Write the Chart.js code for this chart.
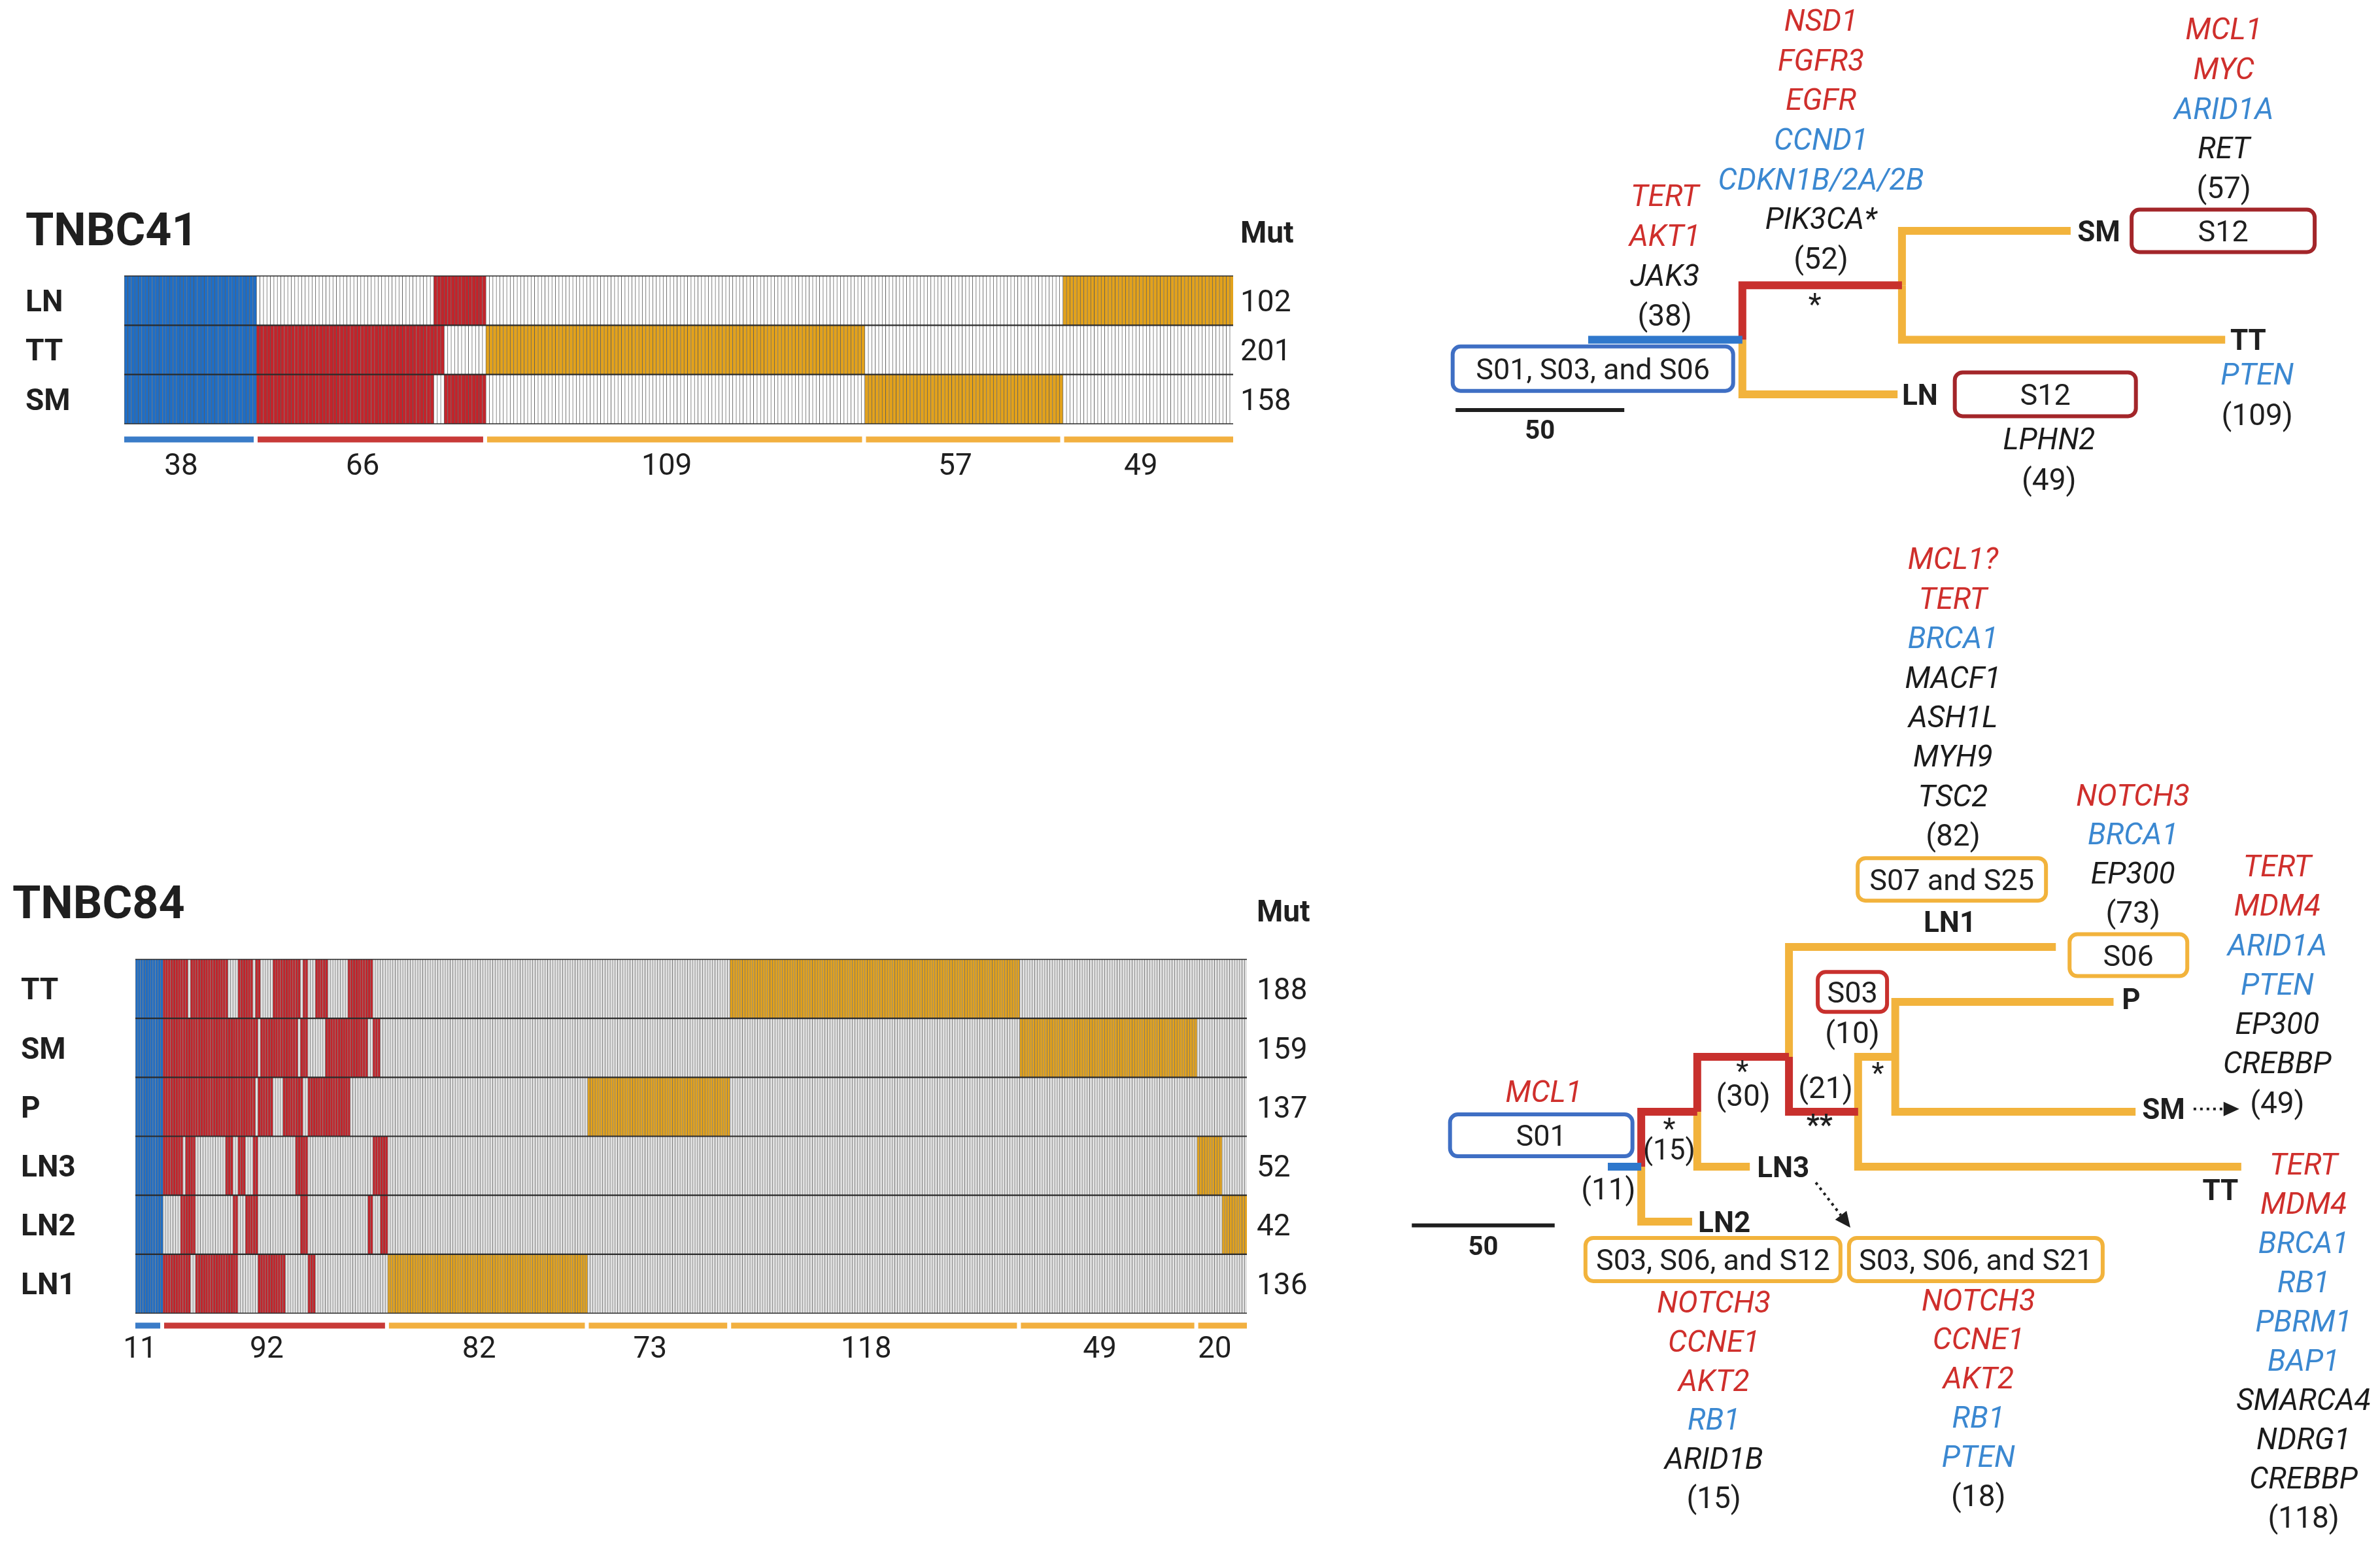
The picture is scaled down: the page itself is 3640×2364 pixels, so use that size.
<!DOCTYPE html>
<html>
<head>
<meta charset="utf-8">
<script src="https://cdn.jsdelivr.net/npm/chart.js@4.4.0/dist/chart.umd.min.js"></script>
<style>
html, body { margin: 0; padding: 0; background: #fff; }
#page { position: relative; width: 3640px; height: 2364px; overflow: hidden; background: #fff; }
canvas { position: absolute; }
</style>
</head>
<body>
<div id="page">
  <canvas id="hm41" width="2050" height="480" style="left:0;top:280px;width:2050px;height:480px"></canvas>
  <canvas id="hm84" width="2050" height="800" style="left:0;top:1320px;width:2050px;height:800px"></canvas>
  <canvas id="tree41" width="1490" height="780" style="left:2150px;top:0;width:1490px;height:780px"></canvas>
  <canvas id="tree84" width="1510" height="1564" style="left:2130px;top:800px;width:1510px;height:1564px"></canvas>
</div>
<script>
// TNBC41 heatmap: one column per mutation, runs of present columns per sample
const tnbc41Samples = ['LN', 'TT', 'SM'];
const tnbc41Mut = ['102', '201', '158'];
const tnbc41BlockEnds = [38, 104, 213, 270, 319];
const tnbc41BlockKind = ['trunk', 'shared', 'private', 'private', 'private'];
const tnbc41BlockLabels = ['38', '66', '109', '57', '49'];
const tnbc41LN = [[0, 38], [89, 104], [270, 319]];
const tnbc41TT = [[0, 38], [38, 92], [104, 213]];
const tnbc41SM = [[0, 38], [38, 89], [92, 104], [213, 270]];

// TNBC84 heatmap
const tnbc84Samples = ['TT', 'SM', 'P', 'LN3', 'LN2', 'LN1'];
const tnbc84Mut = ['188', '159', '137', '52', '42', '136'];
const tnbc84BlockEnds = [11, 101, 181, 238, 354, 425, 445];
const tnbc84BlockKind = ['trunk', 'shared', 'private', 'private', 'private', 'private', 'private'];
const tnbc84BlockLabels = ['11', '92', '82', '73', '118', '49', '20'];
const tnbc84TT = [[0, 11], [11, 21], [22, 37], [41, 47], [48, 50], [55, 66], [67, 69], [72, 77], [85, 95], [238, 354]];
const tnbc84SM = [[0, 11], [11, 49], [50, 65], [66, 69], [76, 93], [95, 98], [354, 425]];
const tnbc84P = [[0, 11], [11, 48], [49, 55], [59, 67], [69, 86], [181, 238]];
const tnbc84LN3 = [[0, 11], [11, 19], [20, 24], [36, 39], [41, 44], [47, 49], [64, 69], [95, 101], [425, 435]];
const tnbc84LN2 = [[0, 11], [18, 24], [39, 41], [44, 49], [66, 69], [93, 95], [98, 101], [435, 445]];
const tnbc84LN1 = [[0, 11], [11, 22], [24, 41], [49, 60], [69, 72], [101, 181]];

// Trees: branch lengths read against the "50" scale bar, level = row of the branch
const scaleBarLength = 50;
const tree41Parent = [-1, 0, 0, 1, 1];
const tree41Length = [45.7, 47.3, 46.0, 50.0, 95.8];
const tree41Level = [2, 1, 3, 0, 2];
const tree41Kind = ['trunk', 'shared', 'private', 'private', 'private'];

const tree84Parent = [-1, 0, 0, 1, 1, 3, 3, 6, 6, 7, 7];
const tree84Length = [11.7, 19.6, 17.8, 32.1, 18.4, 93.4, 24.2, 13.0, 134.1, 76.4, 84.1];
const tree84Level = [4, 3, 5, 2, 4, 0, 3, 2, 4, 1, 3];
const tree84Kind = ['trunk', 'shared', 'private', 'shared', 'private', 'private', 'shared', 'private', 'private', 'private', 'private'];

// gene lists (r = red, b = blue, k = black)
const t41TrunkGenes = [['TERT', 'r'], ['AKT1', 'r'], ['JAK3', 'k']];
const t41SharedGenes = [['NSD1', 'r'], ['FGFR3', 'r'], ['EGFR', 'r'], ['CCND1', 'b'], ['CDKN1B/2A/2B', 'b'], ['PIK3CA*', 'k']];
const t41SmGenes = [['MCL1', 'r'], ['MYC', 'r'], ['ARID1A', 'b'], ['RET', 'k']];
const t41TtGenes = [['PTEN', 'b']];
const t41LnGenes = [['LPHN2', 'k']];

const t84Ln1Genes = [['MCL1?', 'r'], ['TERT', 'r'], ['BRCA1', 'b'], ['MACF1', 'k'], ['ASH1L', 'k'], ['MYH9', 'k'], ['TSC2', 'k']];
const t84PGenes = [['NOTCH3', 'r'], ['BRCA1', 'b'], ['EP300', 'k']];
const t84SmGenes = [['TERT', 'r'], ['MDM4', 'r'], ['ARID1A', 'b'], ['PTEN', 'b'], ['EP300', 'k'], ['CREBBP', 'k']];
const t84TtGenes = [['TERT', 'r'], ['MDM4', 'r'], ['BRCA1', 'b'], ['RB1', 'b'], ['PBRM1', 'b'], ['BAP1', 'b'], ['SMARCA4', 'k'], ['NDRG1', 'k'], ['CREBBP', 'k']];
const t84Ln2Genes = [['NOTCH3', 'r'], ['CCNE1', 'r'], ['AKT2', 'r'], ['RB1', 'b'], ['ARID1B', 'k']];
const t84Ln3Genes = [['NOTCH3', 'r'], ['CCNE1', 'r'], ['AKT2', 'r'], ['RB1', 'b'], ['PTEN', 'b']];

// colours
const cellFill = { trunk: '#1f6ec6', shared: '#c3242b', private: '#e3a21b' };
const barFill = { trunk: '#3a7cc8', shared: '#c83a38', private: '#f2b040' };
const branchColor = { trunk: '#2f78cc', shared: '#c8302d', private: '#f2b33c' };
const boxColor = { blue: '#3f6fc4', darkred: '#a3262a', red: '#c8302d', yellow: '#f2b33c' };
const tone = { r: '#cf2f2c', b: '#3b88d1', k: '#1b1b1b' };
const ink = '#1f1f1f';

function put(ctx, s, x, y, weight, size, color, align) {
    ctx.font = `${weight} ${size}px Roboto`;
    ctx.fillStyle = color;
    ctx.textAlign = align || 'center';
    ctx.textBaseline = 'alphabetic';
    ctx.fillText(s, x, y + size * 0.355);
}

function expandRuns(runs, n) {
    const on = new Array(n).fill(false);
    runs.forEach(([a, b]) => { for (let c = a; c < b; c++) on[c] = true; });
    return on;
}

// Heatmap decorations: row lines, labels, block bars
function heatmapDecor(o) {
    return {
        id: 'heatmapDecor',
        afterDatasetsDraw(chart) {
            const { ctx, chartArea: a, scales: { x, y } } = chart;
            const colW = x.getPixelForValue(1) - x.getPixelForValue(0);
            const edge = c => x.getPixelForValue(c) - colW / 2;
            const rows = o.samples.length;
            ctx.save();
            ctx.strokeStyle = '#2a2a2a';
            for (let r = 0; r <= rows; r++) {
                const yy = y.getPixelForValue(r);
                ctx.lineWidth = (r === 0 || r === rows) ? 1.5 : 2.2;
                ctx.beginPath(); ctx.moveTo(a.left, yy); ctx.lineTo(a.right, yy); ctx.stroke();
            }
            put(ctx, o.title, o.titleX, o.titleY, 'bold', 70, ink, 'left');
            put(ctx, 'Mut', o.countX, o.mutY, 'bold', 46, ink, 'left');
            o.samples.forEach((s, r) => {
                const yc = y.getPixelForValue(r + 0.5);
                put(ctx, s, o.labelX, yc, 'bold', 46, ink, 'left');
                put(ctx, o.mut[r], o.countX, yc, 'normal', 46, ink, 'left');
            });
            let start = 0;
            o.ends.forEach((end, i) => {
                const last = i === o.ends.length - 1;
                const x0 = edge(start) + (i ? 2 : 0);
                const x1 = edge(end) - (last ? 0 : 4);
                ctx.fillStyle = barFill[o.kinds[i]];
                ctx.fillRect(x0, a.bottom + o.barGap - 4.5, x1 - x0, 9);
                put(ctx, o.blockLabels[i], (x0 + x1) / 2 - 12, a.bottom + o.numGap, 'normal', 46, ink, 'center');
                start = end;
            });
            ctx.restore();
        }
    };
}

function drawHeatmap(id, o) {
    const n = o.ends[o.ends.length - 1];
    const cols = Array.from({ length: n }, (_, i) => i);
    const kindOf = c => o.kinds[o.ends.findIndex(e => c < e)];
    new Chart(document.getElementById(id), {
        type: 'bar',
        data: {
            labels: cols.map(String),
            datasets: o.runs.map((runs, r) => {
                const on = expandRuns(runs, n);
                return {
                    data: cols.map(() => [r, r + 1]),
                    backgroundColor: cols.map(c => on[c] ? cellFill[kindOf(c)] : o.absent),
                    borderColor: o.line,
                    borderWidth: { left: 1, right: 0, top: 0, bottom: 0 },
                    borderSkipped: false,
                    grouped: false,
                    barPercentage: 1,
                    categoryPercentage: 1
                };
            })
        },
        options: {
            responsive: false,
            animation: false,
            events: [],
            layout: { padding: o.pad },
            plugins: { legend: { display: false }, tooltip: { enabled: false } },
            scales: {
                x: { display: false },
                y: { display: false, min: 0, max: o.samples.length, reverse: true }
            }
        },
        plugins: [heatmapDecor(o)]
    });
}

// Tree decorations: gene lists, boxes, labels, scale bar, arrows
function treeDecor(notes) {
    return {
        id: 'treeDecor',
        afterDatasetsDraw(chart) {
            const { ctx, scales: { x, y } } = chart;
            const px = v => x.getPixelForValue(v);
            const py = v => y.getPixelForValue(v);
            ctx.save();
            notes.forEach(n => {
                if (n.type === 'genes') {
                    const x0 = px(n.x), y0 = py(n.y);
                    n.genes.forEach(([g, t], i) => put(ctx, g, x0, y0 + i * n.step, 'italic', 46, tone[t], 'center'));
                    put(ctx, n.count, x0, y0 + n.genes.length * n.step, 'normal', 46, ink, 'center');
                } else if (n.type === 'box') {
                    const cx = px(n.x), cy = py(n.y);
                    ctx.beginPath();
                    ctx.roundRect(cx - n.w / 2, cy - n.h / 2, n.w, n.h, 12);
                    ctx.fillStyle = '#fff'; ctx.fill();
                    ctx.lineWidth = 6; ctx.strokeStyle = boxColor[n.color]; ctx.stroke();
                    put(ctx, n.text, cx, cy, 'normal', 45, ink, 'center');
                } else if (n.type === 'bold') {
                    put(ctx, n.text, px(n.x), py(n.y), 'bold', 44, ink, n.align || 'center');
                } else if (n.type === 'text') {
                    put(ctx, n.text, px(n.x), py(n.y), n.weight || 'normal', n.size || 46, n.color || ink, 'center');
                } else if (n.type === 'scale') {
                    ctx.strokeStyle = ink; ctx.lineWidth = 6;
                    ctx.beginPath(); ctx.moveTo(px(n.x), py(n.y)); ctx.lineTo(px(n.x + scaleBarLength), py(n.y)); ctx.stroke();
                    put(ctx, String(scaleBarLength), px(n.x + scaleBarLength / 2), py(n.ly), 'bold', 40, ink, 'center');
                } else if (n.type === 'arrow') {
                    const x0 = px(n.x0), y0 = py(n.y0), x1 = px(n.x1), y1 = py(n.y1);
                    const ang = Math.atan2(y1 - y0, x1 - x0), head = 24;
                    ctx.strokeStyle = ink; ctx.lineWidth = 4; ctx.setLineDash([4, 6]);
                    ctx.beginPath(); ctx.moveTo(x0, y0);
                    ctx.lineTo(x1 - head * Math.cos(ang), y1 - head * Math.sin(ang)); ctx.stroke();
                    ctx.setLineDash([]);
                    ctx.fillStyle = ink;
                    ctx.beginPath();
                    ctx.moveTo(x1, y1);
                    ctx.lineTo(x1 - head * Math.cos(ang) + 11 * Math.sin(ang), y1 - head * Math.sin(ang) - 11 * Math.cos(ang));
                    ctx.lineTo(x1 - head * Math.cos(ang) - 11 * Math.sin(ang), y1 - head * Math.sin(ang) + 11 * Math.cos(ang));
                    ctx.closePath(); ctx.fill();
                }
            });
            ctx.restore();
        }
    };
}

function drawTree(id, t) {
    // node x = parent end + branch length; each branch = elbow from parent row
    const endX = [];
    t.parent.forEach((p, i) => { endX[i] = (p < 0 ? 0 : endX[p]) + t.length[i]; });
    const datasets = t.parent.map((p, i) => {
        const startX = p < 0 ? 0 : endX[p];
        const pts = p < 0
            ? [{ x: 0, y: t.level[i] }, { x: endX[i], y: t.level[i] }]
            : [{ x: startX, y: t.level[p] }, { x: startX, y: t.level[i] }, { x: endX[i], y: t.level[i] }];
        return {
            data: pts,
            showLine: true,
            borderColor: branchColor[t.kind[i]],
            borderWidth: 12,
            borderCapStyle: 'butt',
            borderJoinStyle: 'miter',
            pointRadius: 0,
            tension: 0
        };
    });
    new Chart(document.getElementById(id), {
        type: 'scatter',
        data: { datasets },
        options: {
            responsive: false,
            animation: false,
            events: [],
            plugins: { legend: { display: false }, tooltip: { enabled: false } },
            scales: {
                x: { type: 'linear', display: false, min: t.xRange[0], max: t.xRange[1] },
                y: { type: 'linear', display: false, min: t.yRange[0], max: t.yRange[1], reverse: true }
            }
        },
        plugins: [treeDecor(t.notes)]
    });
}

function main() {
    drawHeatmap('hm41', {
        title: 'TNBC41', samples: tnbc41Samples, mut: tnbc41Mut,
        ends: tnbc41BlockEnds, kinds: tnbc41BlockKind, blockLabels: tnbc41BlockLabels,
        runs: [tnbc41LN, tnbc41TT, tnbc41SM],
        absent: '#ffffff', line: 'rgba(35,35,35,0.7)',
        pad: { left: 190, right: 164, top: 142, bottom: 112 },
        titleX: 39, titleY: 70, labelX: 39, countX: 1897, mutY: 75, barGap: 24, numGap: 62
    });
    drawHeatmap('hm84', {
        title: 'TNBC84', samples: tnbc84Samples, mut: tnbc84Mut,
        ends: tnbc84BlockEnds, kinds: tnbc84BlockKind, blockLabels: tnbc84BlockLabels,
        runs: [tnbc84TT, tnbc84SM, tnbc84P, tnbc84LN3, tnbc84LN2, tnbc84LN1],
        absent: '#e2e2e2', line: 'rgba(50,50,50,0.65)',
        pad: { left: 207, right: 143, top: 147, bottom: 112 },
        titleX: 19, titleY: 59, labelX: 32, countX: 1922, mutY: 73, barGap: 19, numGap: 52
    });

    drawTree('tree41', {
        parent: tree41Parent, length: tree41Length, level: tree41Level, kind: tree41Kind,
        xRange: [-54.07, 234.69], yRange: [-4.238, 5.126],
        notes: [
            { type: 'genes', x: 22.7, y: -0.65, genes: t41TrunkGenes, count: '(38)', step: 61 },
            { type: 'genes', x: 69.0, y: -3.87, genes: t41SharedGenes, count: '(52)', step: 60.7 },
            { type: 'text', x: 67.2, y: 1.34, text: '*' },
            { type: 'genes', x: 188.4, y: -3.71, genes: t41SmGenes, count: '(57)', step: 60.7 },
            { type: 'box', x: 188.2, y: 0, w: 280, h: 65, color: 'darkred', text: 'S12' },
            { type: 'bold', x: 145.0, y: 0, text: 'SM', align: 'left' },
            { type: 'bold', x: 190.3, y: 2, text: 'TT', align: 'left' },
            { type: 'genes', x: 198.3, y: 2.63, genes: t41TtGenes, count: '(109)', step: 62 },
            { type: 'bold', x: 93.0, y: 3, text: 'LN', align: 'left' },
            { type: 'box', x: 135.5, y: 3, w: 277, h: 67, color: 'darkred', text: 'S12' },
            { type: 'genes', x: 136.6, y: 3.81, genes: t41LnGenes, count: '(49)', step: 62 },
            { type: 'box', x: 1.4, y: 2.53, w: 429, h: 68, color: 'blue', text: 'S01, S03, and S06' },
            { type: 'scale', x: -39.3, y: 3.29, ly: 3.65 }
        ]
    });

    drawTree('tree84', {
        parent: tree84Parent, length: tree84Length, level: tree84Level, kind: tree84Kind,
        xRange: [-75.29, 270.25], yRange: [-7.714, 10.905],
        notes: [
            { type: 'box', x: -23.3, y: 3.43, w: 279, h: 64, color: 'blue', text: 'S01' },
            { type: 'text', x: -22.4, y: 2.63, text: 'MCL1', weight: 'italic', color: tone.r },
            { type: 'text', x: 0.2, y: 4.40, text: '(11)' },
            { type: 'text', x: 21.5, y: 3.30, text: '*', size: 44 },
            { type: 'text', x: 21.5, y: 3.68, text: '(15)', size: 44 },
            { type: 'text', x: 47.1, y: 2.26, text: '*', size: 44 },
            { type: 'text', x: 47.4, y: 2.70, text: '(30)' },
            { type: 'text', x: 76.2, y: 2.56, text: '(21)' },
            { type: 'text', x: 74.1, y: 3.23, text: '**', weight: 'bold', size: 44 },
            { type: 'text', x: 94.5, y: 2.29, text: '*', size: 44 },
            { type: 'box', x: 85.6, y: 0.82, w: 106, h: 61, color: 'red', text: 'S03' },
            { type: 'text', x: 85.6, y: 1.55, text: '(10)' },
            { type: 'bold', x: 52.2, y: 4, text: 'LN3', align: 'left' },
            { type: 'bold', x: 31.6, y: 5, text: 'LN2', align: 'left' },
            { type: 'arrow', x0: 72.8, y0: 4.29, x1: 84.9, y1: 5.11 },
            { type: 'box', x: 36.8, y: 5.69, w: 390, h: 66, color: 'yellow', text: 'S03, S06, and S12' },
            { type: 'box', x: 128.8, y: 5.69, w: 388, h: 66, color: 'yellow', text: 'S03, S06, and S21' },
            { type: 'genes', x: 37.1, y: 6.46, genes: t84Ln2Genes, count: '(15)', step: 59.8 },
            { type: 'genes', x: 129.7, y: 6.42, genes: t84Ln3Genes, count: '(18)', step: 59.8 },
            { type: 'genes', x: 120.8, y: -7.07, genes: t84Ln1Genes, count: '(82)', step: 60.4 },
            { type: 'box', x: 120.4, y: -1.23, w: 288, h: 65, color: 'yellow', text: 'S07 and S25' },
            { type: 'bold', x: 119.7, y: -0.46, text: 'LN1' },
            { type: 'genes', x: 183.8, y: -2.77, genes: t84PGenes, count: '(73)', step: 59.7 },
            { type: 'box', x: 182.2, y: 0.15, w: 180, h: 64, color: 'yellow', text: 'S06' },
            { type: 'bold', x: 179.9, y: 0.95, text: 'P', align: 'left' },
            { type: 'bold', x: 187.0, y: 2.95, text: 'SM', align: 'left' },
            { type: 'arrow', x0: 205.0, y0: 2.95, x1: 221.0, y1: 2.95 },
            { type: 'genes', x: 234.3, y: -1.48, genes: t84SmGenes, count: '(49)', step: 60.3 },
            { type: 'bold', x: 214.4, y: 4.42, text: 'TT' },
            { type: 'genes', x: 243.5, y: 3.95, genes: t84TtGenes, count: '(118)', step: 60 },
            { type: 'scale', x: -68.6, y: 5.07, ly: 5.44 }
        ]
    });
}

const fontLoads = ['bold 46px Roboto', 'italic 46px Roboto', '46px Roboto'].map(f => document.fonts.load(f));
Promise.all(fontLoads).then(main, main);
</script>
</body>
</html>
